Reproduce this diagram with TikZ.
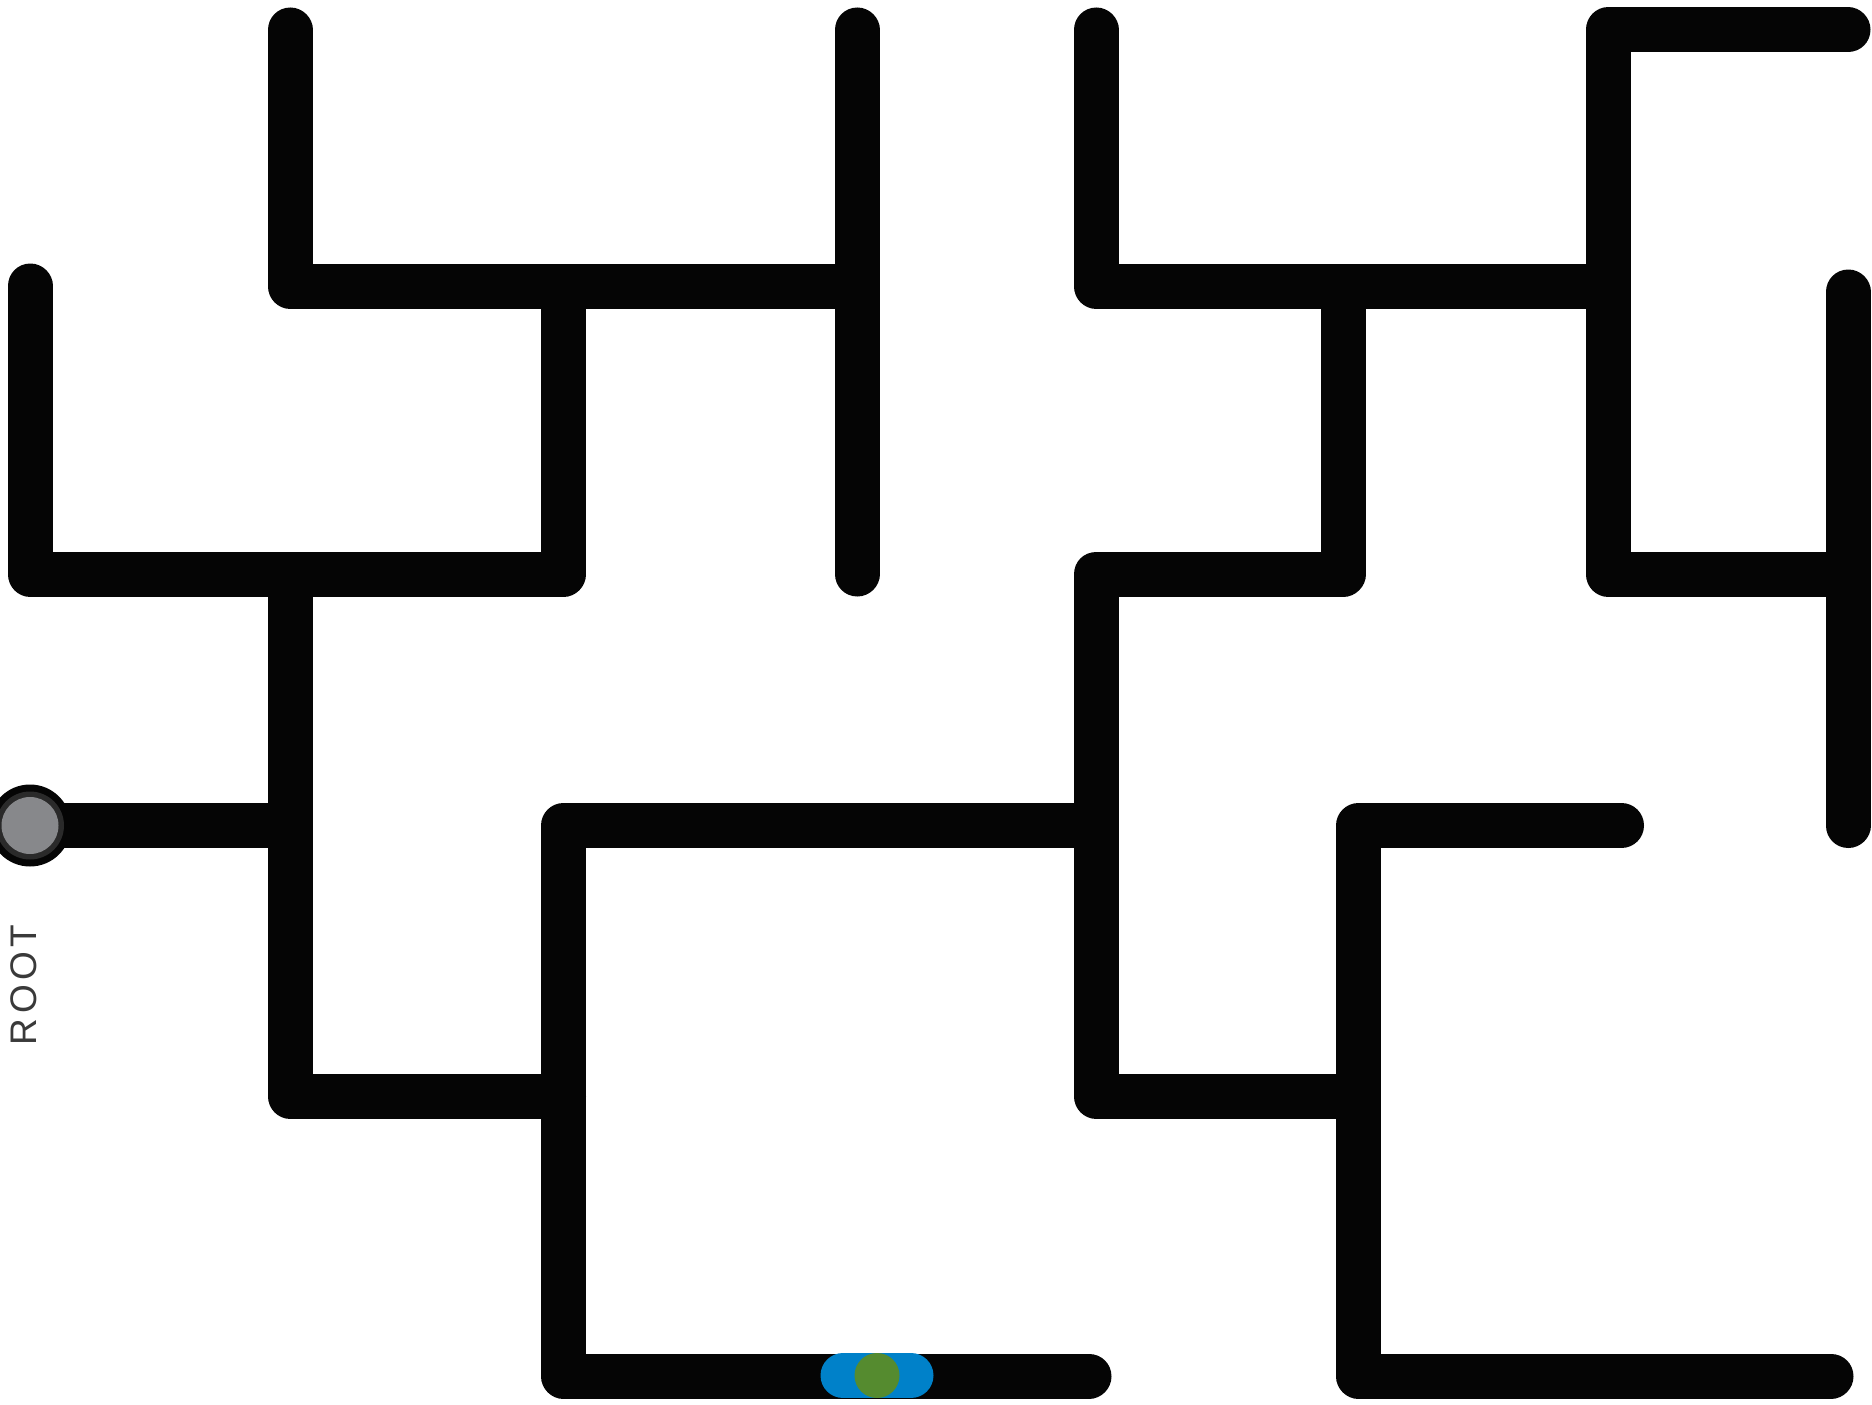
\documentclass[tikz,border=0pt]{standalone}
\usepackage{fontspec}
\setmainfont{Liberation Sans}
\definecolor{mazeblack}{HTML}{050505}
\definecolor{pillblue}{HTML}{0081C9}
\definecolor{dotgreen}{HTML}{558B2F}
\definecolor{rootgray}{HTML}{87888B}
\definecolor{ringdark}{HTML}{2A2A2A}
\definecolor{textgray}{HTML}{3A3A3A}
\begin{document}
\begin{tikzpicture}[x=1pt,y=-1pt,
  wall/.style={draw=mazeblack,line width=45pt,line cap=round,line join=round},
  rootlabel/.style={text=textgray,font=\fontsize{37}{44}\selectfont\addfontfeature{LetterSpace=12},rotate=90,inner sep=0pt}]
\useasboundingbox (0,0) rectangle (1872,1405);
% maze walls
\draw[wall] (290,30) -- (290,286) -- (834.5,286);
\draw[wall] (857,30) -- (857,574);
\draw[wall] (30,286) -- (30,574) -- (563.5,574) -- (563.5,308.5);
\draw[wall] (290,596.5) -- (290,1096) -- (563.5,1096);
\draw[wall] (30,825.5) -- (267.5,825.5);
\draw[wall] (1073.5,825.5) -- (563.5,825.5) -- (563.5,1376) -- (1089,1376);
\draw[wall] (1336,1096) -- (1096,1096) -- (1096,574) -- (1343,574) -- (1343,308.5);
\draw[wall] (1096,30) -- (1096,286) -- (1585.5,286);
\draw[wall] (1848,30) -- (1608,30) -- (1608,574) -- (1825.5,574);
\draw[wall] (1848,292) -- (1848,825.5);
\draw[wall] (1621.5,825.5) -- (1358.5,825.5) -- (1358.5,1376) -- (1831,1376);
% goal marker
\draw[draw=pillblue,line width=45pt,line cap=round] (843,1375.5) -- (911,1375.5);
\fill[dotgreen] (877,1375.5) circle (22.5);
% root marker
\fill[mazeblack] (30,825.5) circle (41);
\fill[ringdark] (30,825.5) circle (34);
\fill[rootgray] (30,825.5) circle (28.5);
\node[rootlabel] (rootlbl) at (24,985) {ROOT};
\end{tikzpicture}
\end{document}
